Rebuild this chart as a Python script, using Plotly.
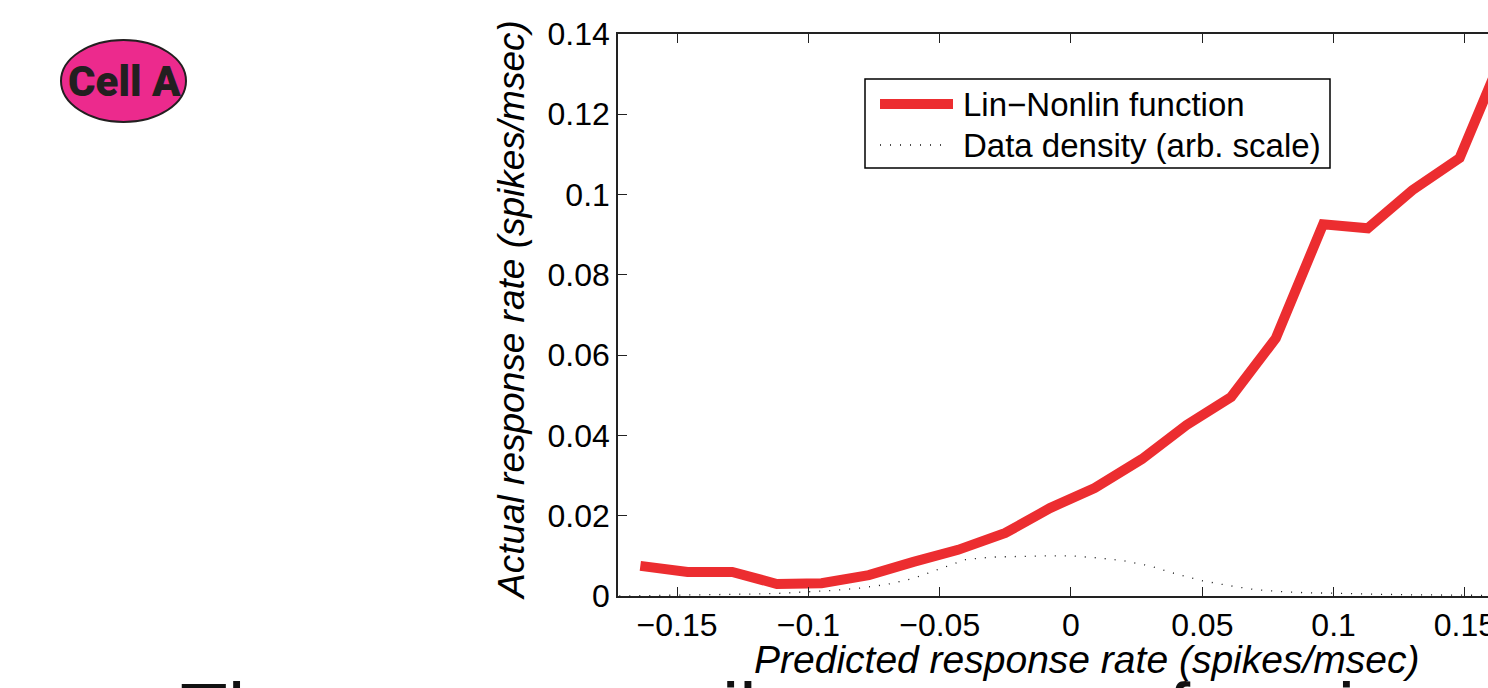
import plotly.graph_objects as go

# Lin-Nonlin function: mean measured rate in each bin of predicted rate
pred_rate = [-0.164, -0.146, -0.129, -0.112, -0.095, -0.077, -0.060, -0.043, -0.025, -0.008,
             0.009, 0.027, 0.044, 0.061, 0.078, 0.096, 0.113, 0.130, 0.148, 0.165]
actual_rate = [0.0075, 0.0060, 0.0060, 0.0030, 0.0032, 0.0052, 0.0085, 0.0115, 0.0157, 0.0219,
               0.0269, 0.0341, 0.0426, 0.0496, 0.0642, 0.0926, 0.0916, 0.1011, 0.1091, 0.1357]

# Density of the predicted values (arbitrary scale)
dens_x = [-0.172, -0.16, -0.15, -0.14, -0.13, -0.12, -0.11, -0.10, -0.09, -0.08, -0.07, -0.06,
          -0.05, -0.04, -0.03, -0.02, -0.01, 0.0, 0.01, 0.02, 0.03, 0.04, 0.05, 0.06, 0.07,
          0.08, 0.09, 0.10, 0.11, 0.12, 0.13, 0.14, 0.15, 0.16, 0.17]
dens_y = [0.0000, 0.0001, 0.0001, 0.0002, 0.0003, 0.0005, 0.0007, 0.0010, 0.0014, 0.0020,
          0.0029, 0.0044, 0.0068, 0.0091, 0.0097, 0.0099, 0.0100, 0.0100, 0.0095, 0.0088,
          0.0075, 0.0055, 0.0038, 0.0026, 0.0016, 0.0011, 0.0008, 0.0007, 0.0005, 0.0004,
          0.0003, 0.0002, 0.0002, 0.0001, 0.0001]

x_ticks = [-0.15, -0.1, -0.05, 0, 0.05, 0.1, 0.15]
x_ticktext = ["\u22120.15", "\u22120.1", "\u22120.05", "0", "0.05", "0.1", "0.15"]
y_ticks = [0, 0.02, 0.04, 0.06, 0.08, 0.1, 0.12, 0.14]
y_ticktext = ["0", "0.02", "0.04", "0.06", "0.08", "0.1", "0.12", "0.14"]

legend_labels = ["Lin\u2212Nonlin function", "Data density (arb. scale)"]
x_title = "Predicted response rate (spikes/msec)"
y_title = "Actual response rate (spikes/msec)"
badge_text = "Cell A"
slide_title = "The average spike rate as a function of the prediction"

RED = "#EC2D30"
INK = "#222222"
FONT = "Liberation Sans, Arial, Helvetica, sans-serif"

# page geometry (pixels)
W, H = 1488, 688
L, T, B, R = 618, 34, 92, 0
PW, PH = W - L - R, H - T - B


def px_x(px):
    return (px - L) / PW


def px_y(py):
    return (H - B - py) / PH


fig = go.Figure()

fig.add_trace(go.Scatter(
    x=dens_x, y=dens_y, mode="lines",
    line=dict(color="#111111", width=1.3, dash="1px,9px"),
    showlegend=False, hoverinfo="skip"))

fig.add_trace(go.Scatter(
    x=pred_rate, y=actual_rate, mode="lines",
    line=dict(color=RED, width=10),
    showlegend=False))

axis_common = dict(
    showgrid=False, zeroline=False, showline=True, linecolor=INK, linewidth=1.5,
    ticks="inside", ticklen=9, tickwidth=1.3, tickcolor=INK, automargin=False,
    tickfont=dict(family=FONT, size=32, color="black"),
)

fig.update_xaxes(range=[-0.1725, 0.1588], tickvals=x_ticks, ticktext=x_ticktext,
                 mirror="ticks", ticklabeloverflow="allow", **axis_common)
fig.update_yaxes(range=[0, 0.14], tickvals=y_ticks, ticktext=y_ticktext,
                 mirror=False, **axis_common)

shapes = []
annotations = []

# legend box
shapes.append(dict(type="rect", xref="paper", yref="paper",
                   x0=px_x(865), x1=px_x(1330), y0=px_y(168), y1=px_y(79),
                   line=dict(color="black", width=1.5), fillcolor="white", layer="above"))
shapes.append(dict(type="line", xref="paper", yref="paper",
                   x0=px_x(880), x1=px_x(953), y0=px_y(104), y1=px_y(104),
                   line=dict(color=RED, width=10), layer="above"))
shapes.append(dict(type="line", xref="paper", yref="paper",
                   x0=px_x(880), x1=px_x(946), y0=px_y(145), y1=px_y(145),
                   line=dict(color="#111111", width=1.3, dash="1px,9px"), layer="above"))
for label, ly in zip(legend_labels, [104, 145]):
    annotations.append(dict(text=label, xref="paper", yref="paper", x=px_x(961), y=px_y(ly),
                            xanchor="left", yanchor="middle", showarrow=False,
                            font=dict(family=FONT, size=33, color="black")))

# axis titles
annotations.append(dict(text=x_title, xref="paper", yref="paper", x=px_x(1086), y=px_y(659),
                        xanchor="center", yanchor="middle", showarrow=False,
                        font=dict(family=FONT, size=39, color="black", style="italic")))
annotations.append(dict(text=y_title, xref="paper", yref="paper", x=px_x(511), y=px_y(310),
                        xanchor="center", yanchor="middle", showarrow=False, textangle=-90,
                        font=dict(family=FONT, size=37, color="black", style="italic")))

# cell badge
shapes.append(dict(type="circle", xref="paper", yref="paper",
                   x0=px_x(61), x1=px_x(186), y0=px_y(122), y1=px_y(40),
                   line=dict(color="#231F20", width=2), fillcolor="#EC2A8D", layer="above"))
annotations.append(dict(text=badge_text, xref="paper", yref="paper", x=px_x(124), y=px_y(82),
                        xanchor="center", yanchor="middle", showarrow=False,
                        font=dict(family="Roboto, Liberation Sans, sans-serif",
                                  size=42, color="#231F20", weight=900)))

# slide title running off the bottom
annotations.append(dict(text=slide_title, xref="paper", yref="paper", x=px_x(178), y=px_y(665),
                        xanchor="left", yanchor="top", showarrow=False,
                        font=dict(family=FONT, size=78, color="#111111")))

fig.update_layout(
    width=W, height=H,
    margin=dict(l=L, r=R, t=T, b=B, pad=0, autoexpand=False),
    paper_bgcolor="white", plot_bgcolor="white",
    font=dict(family=FONT, color="black"),
    shapes=shapes, annotations=annotations,
    showlegend=False,
)

page_style = ("document.documentElement.style.overflow='hidden';"
              "document.body.style.margin='0';"
              "document.body.style.overflow='hidden';")

fig.write_html("out.html", config={"responsive": False}, post_script=page_style)
